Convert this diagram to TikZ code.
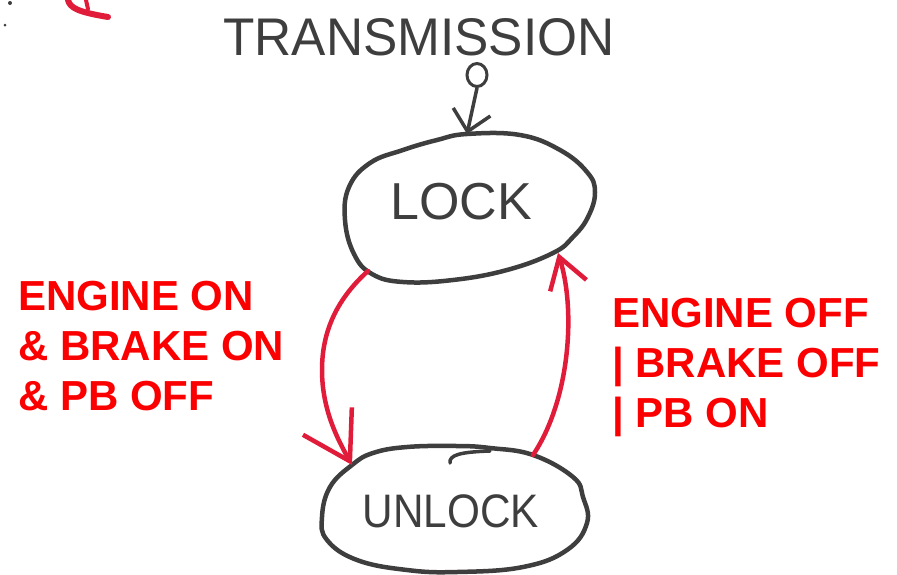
\documentclass[tikz,border=0pt]{standalone}
\usepackage{fontspec}
\setmainfont{Liberation Sans}
\usetikzlibrary{arrows.meta,shapes.geometric}
\definecolor{pencil}{RGB}{62,62,62}
\definecolor{redpen}{RGB}{224,28,58}
\definecolor{redtxt}{RGB}{250,0,0}
\tikzset{
  statepath/.style={draw=pencil, line width=4.5pt, line join=round},
  hand/.style={text=pencil, inner sep=0pt},
  cond/.style={text=redtxt, font=\fontsize{42}{50}\selectfont\bfseries, align=left, anchor=north west, inner sep=0pt},
  trans/.style={draw=redpen, line width=4.5pt, line cap=round},
  initarrow/.style={draw=pencil, line width=3.5pt, line cap=round, -{Straight Barb[length=20pt,width=38pt,line width=3.5pt]}},
}
\begin{document}
\begin{tikzpicture}[x=1pt,y=-1pt]
\useasboundingbox (0,0) rectangle (897,574);
% title
\node[hand, font=\fontsize{53}{53}\selectfont, xscale=0.97] (title) at (419,37) {TRANSMISSION};
% LOCK state outline
\draw[statepath] plot[smooth cycle, tension=0.7] coordinates {
  (467,134) (520,135) (560,150) (587,172) (595,192) (588,217) (573,237)
  (553,253) (507,270) (453,280) (403,282) (372,274) (354,254) (345,220)
  (349,187) (370,163) (403,150) (437,140)};
\coordinate (locktop) at (467,134);
\coordinate (lockout) at (368,271);
\coordinate (lockin) at (558,253);
\node[hand, font=\fontsize{52}{52}\selectfont] (lock) at (461,202) {LOCK};
% UNLOCK state outline
\draw[statepath] plot[smooth cycle, tension=0.7] coordinates {
  (457,446) (490,448) (533,455) (573,477) (583,497) (587,523) (567,550)
  (523,567) (457,572) (407,570) (357,560) (327,540) (322,517) (330,487)
  (352,465) (373,453) (407,447)};
\coordinate (unlockin) at (352,465);
\coordinate (unlockout) at (533,455);
\node[hand, font=\fontsize{47}{47}\selectfont, xscale=0.9] (unlock) at (451,511) {UNLOCK};
% small hook on unlock top
\draw[pencil, line width=3.5pt, line cap=round] (450,463) .. controls (449,455) and (460,452) .. (490,451);
% initial pseudo state
\node[draw=pencil, line width=3pt, ellipse, minimum width=20pt, minimum height=23pt, inner sep=0pt] (init) at (477,75) {};
\draw[initarrow] (init.south) -- (locktop);
% transitions
\draw[trans, -{Straight Barb[length=46pt,width=56pt,line width=4.5pt]}]
  (lockout) .. controls (338,298) and (322,330) .. (322,370)
  .. controls (322,410) and (338,440) .. (unlockin);
\draw[trans, -{Straight Barb[length=30pt,width=38pt,line width=4.5pt]}]
  (unlockout) .. controls (570,400) and (576,310) .. (lockin);
% conditions
\node[cond] (c1) at (18,281) {ENGINE ON\\\& BRAKE ON\\\& PB OFF};
\node[cond] (c2) at (612,298) {ENGINE OFF\\| BRAKE OFF\\| PB ON};
% stray marks
\draw[redpen, line width=6pt, line cap=round] (68,0) .. controls (70,8) and (78,12) .. (108,17);
\draw[redpen, line width=4pt, line cap=round] (86,0) -- (88,9);
\fill[pencil] (10,3) circle (2pt);
\fill[pencil] (5,25) circle (1.5pt);
\end{tikzpicture}
\end{document}
